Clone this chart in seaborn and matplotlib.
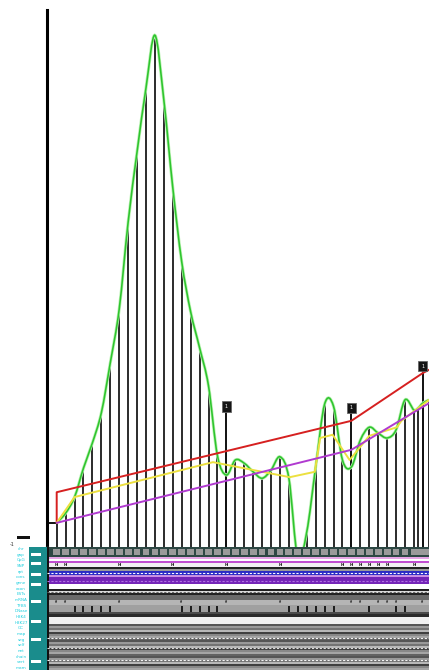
import numpy as np
import pandas as pd
import matplotlib
matplotlib.use("Agg")
import matplotlib.pyplot as plt
from matplotlib.path import Path
from matplotlib.patches import PathPatch, Rectangle
import seaborn as sns

# ---- signal track -------------------------------------------------------
positions = [0, 1, 2, 3, 4, 5, 6, 7, 8, 9, 10, 11, 12, 13, 14, 15, 16, 17, 18,
             19, 20, 21, 22, 23, 24, 25, 26, 27, 28, 29, 30, 31, 32, 33, 34,
             35, 36, 37, 38, 39, 40, 40.5, 41, 41.7]
signal = [4.5, 6.3, 9.3, 14.7, 19.4, 25.0, 34.3, 44.3, 60.5, 73.6, 85.5, 95.3,
          83.2, 66.9, 53.1, 43.8, 37.1, 30.0, 17.0, 13.4, 16.2, 15.6, 14.0,
          12.8, 14.3, 16.8, 12.8, -2.1, 2.8, 14.9, 26.6, 26.2, 16.2, 14.9,
          19.9, 22.3, 21.2, 20.3, 21.8, 27.4, 25.5, 25.9, 26.8, 27.4]

# flagged sites
flag_positions = [19, 33, 41]
flag_values = [26.1, 25.9, 33.7]
flag_labels = ["1", "1", "1"]

# upper envelope
upper_x = [0, 0, 33, 41, 41.7]
upper_y = [4.5, 10.2, 23.5, 32.4, 33.0]

# running mean
mean_x = [0, 2, 17.5, 26.1, 28.9, 29.5, 30.9, 32.8, 35, 38.1, 38.6, 41.7]
mean_y = [4.5, 9.3, 15.8, 13.0, 14.0, 20.3, 20.9, 16.2, 20.7, 22.3, 23.5, 27.4]

# baseline trend
trend_x = [0, 33, 41.7]
trend_y = [4.5, 18.1, 26.8]

# ---- annotation tracks ----------------------------------------------------
bar_sites = [2, 3, 4, 5, 6, 14, 15, 16, 17, 18, 26, 27, 28, 29, 30, 31, 35, 38, 39]
mark_sites_a = [0, 1, 7, 13, 19, 25, 32, 33, 34, 35, 36, 37, 40]
mark_sites_b = [0, 1, 7, 14, 19, 25, 33, 34, 36, 37, 38, 41]
track_names = ["chr", "gap", "CpG", "SNP", "rpt", "cons", "gene", "exon",
               "ESTs", "mRNA", "TFBS", "DNase", "H3K4", "H3K27", "GC", "map",
               "seg", "self", "net", "chain", "vert", "mam"]

W, H = 429, 670
sns.set_theme(style="white")
plt.rcParams["font.family"] = ["DejaVu Sans"]

fig = plt.figure(figsize=(W / 100, H / 100), dpi=100)
fig.patch.set_facecolor("white")

x0_px, dx_px = 56.7, 8.93
xmin = (47 - x0_px) / dx_px
xmax = (W - x0_px) / dx_px

ax = fig.add_axes([47 / W, (H - 547) / H, (W - 47) / W, 537 / H])
ax.set_xlim(xmin, xmax)
ax.set_ylim(0, 100)
ax.set_facecolor("white")
for s in ["top", "right", "bottom"]:
    ax.spines[s].set_visible(False)
ax.spines["left"].set_color("black")
ax.spines["left"].set_linewidth(2.2)
ax.set_xticks([])
ax.set_yticks([])

# stems
ax.vlines(positions, 0, signal, color="#111111", lw=1.25, zorder=2)
ax.vlines(flag_positions, 0, flag_values, color="#111111", lw=1.4, zorder=2)
ax.hlines(signal[0], xmin, 0, color="#111111", lw=1.4, zorder=2)


def catmull_rom_path(xs, ys):
    pts = np.column_stack([xs, ys]).astype(float)
    verts = [pts[0]]
    codes = [Path.MOVETO]
    n = len(pts)
    for i in range(n - 1):
        p0 = pts[max(i - 1, 0)]
        p1 = pts[i]
        p2 = pts[i + 1]
        p3 = pts[min(i + 2, n - 1)]
        c1 = p1 + (p2 - p0) / 6.0
        c2 = p2 - (p3 - p1) / 6.0
        verts += [c1, c2, p2]
        codes += [Path.CURVE4] * 3
    return Path(verts, codes)


# smoothed signal
green_path = catmull_rom_path(positions, signal)
ax.add_patch(PathPatch(green_path, fill=False, ec="#b8f2b0", lw=2.2,
                       transform=ax.transData, zorder=3, clip_on=False))
ax.add_patch(PathPatch(green_path, fill=False, ec="#2ec42e", lw=1.15,
                       transform=ax.transData, zorder=4, clip_on=False))

df_upper = pd.DataFrame({"x": upper_x, "y": upper_y})
df_mean = pd.DataFrame({"x": mean_x, "y": mean_y})
df_trend = pd.DataFrame({"x": trend_x, "y": trend_y})
sns.lineplot(data=df_upper, x="x", y="y", ax=ax, color="#d62020", lw=1.4,
             sort=False, estimator=None, zorder=5)
sns.lineplot(data=df_mean, x="x", y="y", ax=ax, color="#ece040", lw=1.4,
             sort=False, estimator=None, zorder=5)
sns.lineplot(data=df_trend, x="x", y="y", ax=ax, color="#b03ad0", lw=1.4,
             sort=False, estimator=None, zorder=5)
ax.set_xlabel("")
ax.set_ylabel("")
ax.set_xlim(xmin, xmax)
ax.set_ylim(0, 100)

for fx, fv, fl in zip(flag_positions, flag_values, flag_labels):
    ax.text(fx, fv, fl, color="white", fontsize=3.5, ha="center", va="center",
            zorder=7, clip_on=False,
            bbox=dict(boxstyle="square,pad=0.6", fc="#151515", ec="#666666", lw=0.6))

# ---- annotation panel ------------------------------------------------------
ax2 = fig.add_axes([47 / W, 0, (W - 47) / W, 123 / H])
ax2.set_xlim(xmin, xmax)
ax2.set_ylim(670, 547)
ax2.set_xticks([])
ax2.set_yticks([])
for s in ["top", "right", "bottom"]:
    ax2.spines[s].set_visible(False)
ax2.spines["left"].set_color("#111111")
ax2.spines["left"].set_linewidth(2.2)

bands = [
    (547, 557, "#2e4844"), (557, 559, "#e6a6e6"), (559, 561, "#ffffff"),
    (561, 563, "#c24ed2"), (563, 567, "#f4f0f4"), (567, 569, "#222222"),
    (569, 571, "#9a9a9a"), (571, 575, "#2a2ac4"), (575, 577, "#c890e4"),
    (577, 584, "#7424b8"), (584, 589, "#ffffff"), (589, 591, "#1e1e1e"),
    (591, 593, "#dddddd"), (593, 595, "#222222"), (595, 600, "#6a6a6a"),
    (600, 605, "#b5b5b5"), (605, 612, "#a0a0a0"), (612, 614, "#4a4a4a"),
    (614, 617, "#2a2a2a"), (617, 624, "#f0f0f0"),
]
for y0, y1, c in bands:
    ax2.axhspan(y0, y1, color=c, lw=0, zorder=1)

stripe_cycle = ["#555555", "#999999", "#737373", "#b8b8b8", "#404040",
                "#888888", "#a5a5a5", "#626262"]
y = 624
k = 0
while y < 670:
    ax2.axhspan(y, y + 2, color=stripe_cycle[k % len(stripe_cycle)], lw=0, zorder=1)
    y += 2
    k += 1

# cell row
for p in positions:
    ax2.add_patch(Rectangle((p - 0.38, 549), 0.76, 6.5, color="#9a9a9a", lw=0, zorder=2))
# dashed rows
for yy, c in [(573, "#ffffff"), (581, "#b070e0"), (592, "#666666"),
              (638, "#f4f4f4"), (660, "#f4f4f4"), (648, "#dddddd")]:
    ax2.hlines(yy, xmin, xmax, colors=c, lw=0.8, linestyles=(0, (2, 1.5)), zorder=3)

# feature bars
ax2.vlines(bar_sites, 606, 612, colors="#111111", lw=1.3, zorder=4)
for m in mark_sites_a:
    ax2.text(m, 565, "H", fontsize=3, ha="center", va="center", color="#111111",
             zorder=4, fontweight="bold")
for m in mark_sites_b:
    ax2.text(m, 602, "ff", fontsize=3, ha="center", va="center", color="#111111",
             zorder=4)

# ---- track labels ------------------------------------------------------------
ax3 = fig.add_axes([0, 0, 47 / W, 136 / H])
ax3.set_xlim(0, 47)
ax3.set_ylim(670, 534)
ax3.axis("off")
ax3.add_patch(Rectangle((29, 547), 18, 123, color="#1a8c8c", lw=0, zorder=1))
for yy in [553, 562, 573, 583, 600, 620, 638, 660]:
    ax3.add_patch(Rectangle((31, yy), 10, 3, color="#ffffff", lw=0, zorder=2))
ax3.add_patch(Rectangle((17, 536), 13, 2.5, color="#111111", lw=0, zorder=2))
ax3.text(12, 544, "-1", fontsize=3.5, color="#333333", ha="center", va="center")
label_rows = np.linspace(549, 668, len(track_names))
for yy, name in zip(label_rows, track_names):
    ax3.text(21, yy, name, fontsize=3, color="#20d0e0", ha="center", va="center")

fig.savefig("out.png", dpi=100, facecolor="white")
